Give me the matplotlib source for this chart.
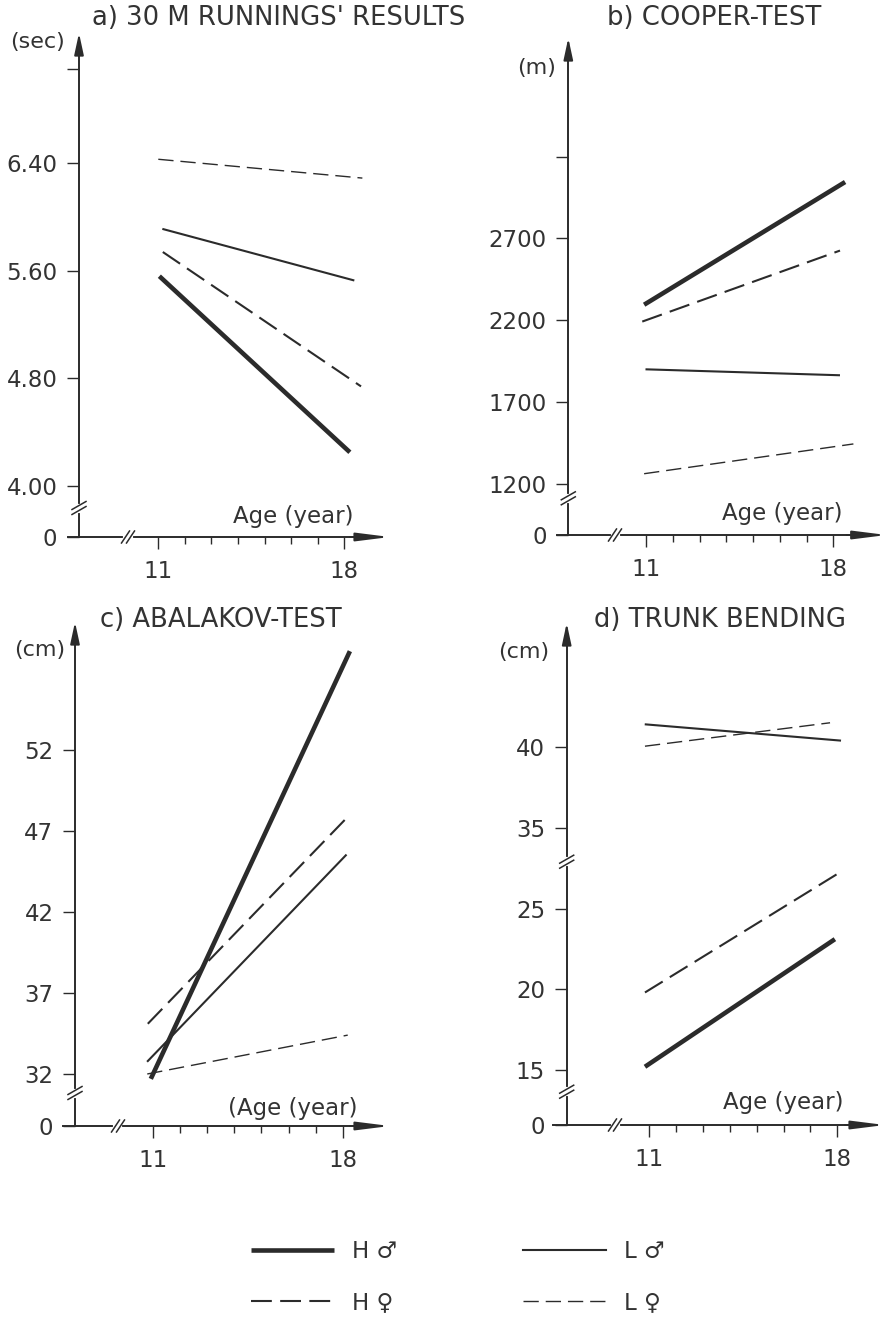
import numpy as np
import matplotlib
matplotlib.use("Agg")
import matplotlib.pyplot as plt

W, H = 891, 1317
plt.rcParams['font.family'] = ['DejaVu Sans']
plt.rcParams['lines.scale_dashes'] = False

INK = '#2b2b2b'
TXT = '#333333'

# -----------------------
# data (series order: H male, H female, L male, L female)
# -----------------------
series = ['H ♂', 'H ♀', 'L ♂', 'L ♀']

# a) 30 m running (sec)
run_age0 = [11.04, 11.17, 11.19, 11.00]
run_age1 = [18.21, 18.63, 18.34, 18.68]
run_v0 = [5.56, 5.74, 5.91, 6.43]
run_v1 = [4.25, 4.74, 5.53, 6.29]
run_ticks = [4.00, 4.80, 5.60, 6.40]
run_labels = ['4.00', '4.80', '5.60', '6.40']

# b) Cooper test (m)
coop_age0 = [10.93, 10.86, 11.02, 10.93]
coop_age1 = [18.44, 18.25, 18.21, 18.75]
coop_v0 = [2294, 2191, 1899, 1261]
coop_v1 = [3044, 2625, 1863, 1443]
coop_ticks = [1200, 1700, 2200, 2700]

# c) Abalakov test (cm)
abal_age0 = [10.93, 10.82, 10.82, 10.80]
abal_age1 = [18.25, 18.07, 18.10, 18.17]
abal_v0 = [31.7, 35.1, 32.8, 32.0]
abal_v1 = [58.1, 47.7, 45.5, 34.4]
abal_ticks = [32, 37, 42, 47, 52]

# d) trunk bending (cm)
trunk_age0 = [10.85, 10.85, 10.88, 10.85]
trunk_age1 = [17.91, 18.06, 18.10, 17.73]
trunk_v0 = [15.2, 19.8, 41.4, 40.05]
trunk_v1 = [23.1, 27.2, 40.4, 41.5]
trunk_ticks = [15, 20, 25, 35, 40]

years = list(range(11, 19))

styles = [dict(ls='-', lw=3.3, solid_capstyle='butt'),
          dict(ls=(0, (15, 6)), lw=1.5),
          dict(ls='-', lw=1.5),
          dict(ls=(0, (11, 5)), lw=1.0)]


def trunk_pos(v):
    # broken axis: the part above the break is shifted down by 5
    v = np.asarray(v, dtype=float)
    return np.where(v >= 30, v - 5, v)


# -----------------------
# layout in pixels
# -----------------------
lay_a = dict(rect=(0, 0, 445, 600), x11=158.3, ppx=26.57, yref=6.40, ypx=163.3, ppu=134.4,
             yaxis=79, floor=537, ybreaks=[508], xstart=68, xbreak=128, xtip=390, ytip=33)
lay_b = dict(rect=(445, 0, 891, 600), x11=646, ppx=26.76, yref=2700, ypx=238.3, ppu=0.1636,
             yaxis=568.3, floor=535, ybreaks=[498.3], xstart=556.7, xbreak=615, xtip=886.7, ytip=38)
lay_c = dict(rect=(0, 600, 445, 1190), x11=152.7, ppx=27.2, yref=32, ypx=1074, ppu=16.2,
             yaxis=75, floor=1126, ybreaks=[1093], xstart=63, xbreak=118, xtip=390, ytip=622)
lay_d = dict(rect=(445, 600, 891, 1190), x11=649, ppx=26.9, yref=15, ypx=1070, ppu=16.15,
             yaxis=566.7, floor=1125, ybreaks=[861.7, 1091.7], xstart=553.3, xbreak=615, xtip=885, ytip=623)

fig = plt.figure(figsize=(W / 100, H / 100), dpi=100)
fig.patch.set_facecolor('white')


def px2fig(x, y):
    return x / W, 1 - y / H


def fx(L, px):
    return 11 + (px - L['x11']) / L['ppx']


def fy(L, py):
    return L['yref'] - (py - L['ypx']) / L['ppu']


def make_panel(L, age0, age1, v0, v1, tick_pos, tick_labels, extra_ticks=()):
    l, t, r, b = L['rect']
    ax = fig.add_axes([l / W, 1 - b / H, (r - l) / W, (b - t) / H])
    ax.set_xlim(fx(L, l), fx(L, r))
    ax.set_ylim(fy(L, b), fy(L, t))
    ax.patch.set_alpha(0)

    lines = []
    for i in range(len(series)):
        ln, = ax.plot([age0[i], age1[i]], [v0[i], v1[i]], color=INK, **styles[i])
        lines.append(ln)

    x0 = fx(L, L['yaxis'])
    y0 = fy(L, L['floor'])
    for s in ['top', 'right']:
        ax.spines[s].set_visible(False)
    ax.spines['left'].set_position(('data', x0))
    ax.spines['left'].set_bounds(y0, fy(L, L['ytip'] + 8))
    ax.spines['bottom'].set_position(('data', y0))
    ax.spines['bottom'].set_bounds(fx(L, L['xstart']), fx(L, L['xtip'] - 12))
    for s in ['left', 'bottom']:
        ax.spines[s].set_linewidth(1.4)
        ax.spines[s].set_color(INK)

    # arrow heads
    ax.annotate('', xy=(x0, fy(L, L['ytip'])), xytext=(x0, fy(L, L['ytip'] + 22)),
                arrowprops=dict(arrowstyle='-|>,head_length=1.3,head_width=0.28', color=INK,
                                lw=1.4, shrinkA=0, shrinkB=0, mutation_scale=10),
                annotation_clip=False)
    ax.annotate('', xy=(fx(L, L['xtip']), y0), xytext=(fx(L, L['xtip'] - 40), y0),
                arrowprops=dict(arrowstyle='-|>,head_length=2.0,head_width=0.25', color=INK,
                                lw=1.4, shrinkA=0, shrinkB=0, mutation_scale=10),
                annotation_clip=False)

    # ticks
    yt = list(tick_pos) + list(extra_ticks) + [y0]
    yl = list(tick_labels) + [''] * len(extra_ticks) + ['0']
    ax.set_yticks(yt, yl)
    ax.set_xticks([11, 18], ['11', '18'])
    ax.set_xticks(years[1:-1], minor=True)
    ax.tick_params(axis='y', direction='out', length=8.5, width=1.0, pad=7,
                   labelsize=16.5, labelcolor=TXT, color=INK)
    ax.tick_params(axis='x', which='major', direction='out', length=8.5, width=1.0, pad=8,
                   labelsize=16.5, labelcolor=TXT, color=INK)
    ax.tick_params(axis='x', which='minor', direction='out', length=5, width=1.0, color=INK)

    # axis breaks
    for py in L['ybreaks']:
        ax.plot([x0, x0], [fy(L, py + 2.5), fy(L, py - 2.5)], color='white', lw=3,
                zorder=4, clip_on=False)
        for off in (-2.5, 2.5):
            ax.plot([fx(L, L['yaxis'] - 7), fx(L, L['yaxis'] + 7)],
                    [fy(L, py + off + 4), fy(L, py + off - 4)],
                    color=INK, lw=1.1, zorder=5, clip_on=False)
    xb = L['xbreak']
    ax.plot([fx(L, xb - 2.5), fx(L, xb + 2.5)], [y0, y0], color='white', lw=3, zorder=4, clip_on=False)
    for off in (-2.5, 2.5):
        ax.plot([fx(L, xb + off - 4), fx(L, xb + off + 4)],
                [fy(L, L['floor'] + 6), fy(L, L['floor'] - 6)],
                color=INK, lw=1.1, zorder=5, clip_on=False)
    return ax, lines


ax_a, lines_a = make_panel(lay_a, run_age0, run_age1, run_v0, run_v1, run_ticks, run_labels, [7.10])
ax_b, _ = make_panel(lay_b, coop_age0, coop_age1, coop_v0, coop_v1, coop_ticks,
                     [str(t) for t in coop_ticks], [3200])
ax_c, _ = make_panel(lay_c, abal_age0, abal_age1, abal_v0, abal_v1, abal_ticks,
                     [str(t) for t in abal_ticks])
ax_d, _ = make_panel(lay_d, trunk_age0, trunk_age1, trunk_pos(trunk_v0), trunk_pos(trunk_v1),
                     trunk_pos(trunk_ticks), [str(t) for t in trunk_ticks])

# -----------------------
# texts
# -----------------------
def ftext(x, y, s, size=16.5, ha='left'):
    fig.text(*px2fig(x, y), s, ha=ha, va='center', fontsize=size, color=TXT)


ftext(92, 18, "a) 30 M RUNNINGS' RESULTS", 18.6)
ftext(606.7, 18.3, "b) COOPER-TEST", 18.6)
ftext(100, 620, "c) ABALAKOV-TEST", 18.6)
ftext(594, 620, "d) TRUNK BENDING", 18.6)

ftext(38, 42, "(sec)", 16, ha='center')
ftext(536.7, 68.3, "(m)", 16, ha='center')
ftext(40, 650, "(cm)", 16, ha='center')
ftext(523.3, 651.7, "(cm)", 16, ha='center')

ftext(233, 517, "Age (year)")
ftext(721.7, 513.3, "Age (year)")
ftext(228, 1108, "(Age (year)")
ftext(723, 1103, "Age (year)")

leg = fig.legend(handles=lines_a, labels=series, ncol=2, loc='center',
                 bbox_to_anchor=px2fig(458, 1277), frameon=False, fontsize=16.5,
                 handlelength=3.6, handletextpad=0.8, columnspacing=5.5, labelspacing=1.26,
                 labelcolor=TXT)

fig.savefig("out.png", dpi=100, facecolor='white')
